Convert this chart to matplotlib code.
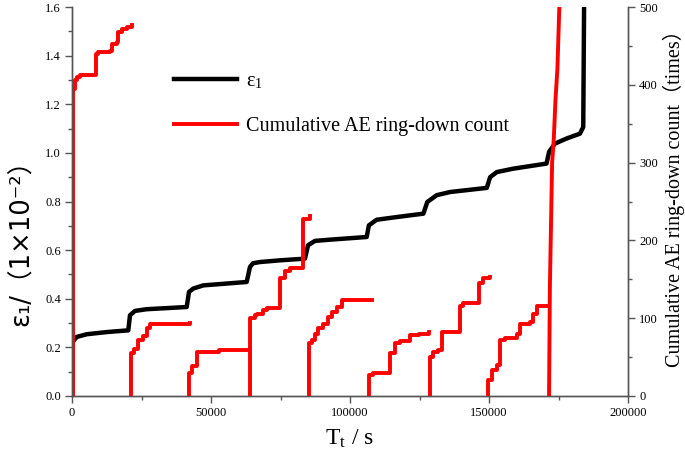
import matplotlib
matplotlib.use("Agg")
import matplotlib.pyplot as plt
from matplotlib.ticker import MultipleLocator

plt.rcParams['mathtext.fontset'] = 'stix'

# ---- data: strain epsilon_1 (x 1e-2) vs time (s) ----
eps_t = [100, 150, 1700, 5300, 12500, 20250, 20860, 22660, 26870, 41260, 42080,
         43630, 47230, 62840, 64030, 65100, 67600, 74800, 83800, 84900, 87400,
         92800, 106000, 106800, 109600, 116800, 126400, 127800, 131200, 136000,
         149200, 150400, 152800, 158700, 170700, 171600, 173700, 177900, 182700,
         183900, 184200]
eps_v = [0, 0.222, 0.243, 0.254, 0.263, 0.270, 0.332, 0.350, 0.357, 0.366, 0.428,
         0.442, 0.455, 0.469, 0.531, 0.546, 0.551, 0.558, 0.565, 0.620, 0.638,
         0.643, 0.654, 0.702, 0.725, 0.736, 0.750, 0.798, 0.826, 0.839,
         0.856, 0.900, 0.921, 0.935, 0.956, 1.004, 1.038, 1.059, 1.079,
         1.106, 1.600]

# ---- data: cumulative AE ring-down count, stage segments (step-wise) ----
ae1_t = [470, 470, 1080, 1690, 2880, 8630, 9460, 13670, 14500, 16080, 16650, 17880, 19680, 21470]
ae1_c = [0, 395, 406, 410, 412, 440, 442, 444, 453, 455, 468, 472, 474, 477]
ae2_t = [21220, 21220, 22300, 23740, 25540, 26980, 28060, 42440]
ae2_c = [0, 55, 60, 72, 77, 87, 92, 93.5]
ae3_t = [42200, 42200, 43050, 44850, 53000, 64000]
ae3_c = [0, 29, 39, 57, 59, 61]
ae4_t = [64000, 64000, 65800, 66500, 68700, 70100, 74800, 76600, 78400, 83000, 85600]
ae4_c = [0, 100, 104, 106, 110, 113, 152, 161, 164, 228, 231]
ae5_t = [85250, 85250, 86200, 87400, 88500, 90300, 92100, 93500, 95300, 97100, 100000, 107900]
ae5_c = [0, 68, 72, 80, 87, 93, 101, 108, 114, 123, 124, 124]
ae6_t = [106800, 106800, 108300, 112000, 114400, 116200, 118000, 121600, 125000, 128400]
ae6_c = [0, 27, 29, 30, 55, 68, 71, 78, 80, 82]
ae7_t = [128800, 128800, 129900, 131500, 133100, 139600, 140600, 146400, 147800, 150400]
ae7_c = [0, 50, 56, 59, 82, 116, 119, 145, 152, 153]
ae8_t = [149600, 149600, 151100, 152900, 153900, 155800, 160100, 161100, 164700, 165800, 167300, 171200]
ae8_c = [0, 20, 33, 40, 72, 75, 80, 93, 95, 106, 116, 116]
ae9_t = [171600, 171900, 172300, 172700, 173300, 173900, 174600, 175300]
ae9_c = [0, 140, 220, 300, 330, 380, 420, 500]

xticks = [0, 50000, 100000, 150000, 200000]
yticks_left = [0.0, 0.2, 0.4, 0.6, 0.8, 1.0, 1.2, 1.4, 1.6]
yticks_right = [0, 100, 200, 300, 400, 500]

W, H = 685, 459
fig = plt.figure(figsize=(W / 100, H / 100), dpi=100)
ax = fig.add_axes([72 / W, 63 / H, 556 / W, 389 / H])
ax2 = ax.twinx()

RED = '#ff0000'
l1, = ax.plot(eps_t, eps_v, color='black', lw=3.2, solid_joinstyle='round', zorder=3)
segs = [(ae1_t, ae1_c), (ae2_t, ae2_c), (ae3_t, ae3_c), (ae4_t, ae4_c),
        (ae5_t, ae5_c), (ae6_t, ae6_c), (ae7_t, ae7_c), (ae8_t, ae8_c)]
for t, c in segs:
    l2, = ax2.plot(t, c, color=RED, lw=2.8, drawstyle='steps-post')
ax2.plot(ae9_t, ae9_c, color=RED, lw=2.8)

ax.set_xlim(0, 200000)
ax.set_ylim(0, 1.6)
ax2.set_ylim(0, 500)

spine_col = '#555555'
tfont = dict(family='Liberation Serif', size=9)
for a in (ax, ax2):
    for s in a.spines.values():
        s.set_color(spine_col)
        s.set_linewidth(1.0)
    a.spines['top'].set_visible(False)

ax.set_xticks(xticks)
ax.set_xticklabels([str(v) for v in xticks], **tfont)
ax.xaxis.set_minor_locator(MultipleLocator(25000))
ax.set_yticks(yticks_left)
ax.set_yticklabels(['%.1f' % v for v in yticks_left], **tfont)
ax.yaxis.set_minor_locator(MultipleLocator(0.1))
ax2.set_yticks(yticks_right)
ax2.set_yticklabels([str(v) for v in yticks_right], **tfont)
ax2.yaxis.set_minor_locator(MultipleLocator(50))

for a in (ax, ax2):
    a.tick_params(which='major', direction='out', length=5, width=1, color=spine_col, pad=3)
    a.tick_params(which='minor', direction='out', length=3, width=1, color=spine_col)

ax.set_xlabel('T$_{\\mathregular{t}}$ / s', family='Liberation Serif', size=17, labelpad=6)
ax.set_ylabel('ε₁/（1×10⁻²）',
              family=['DejaVu Sans', 'Noto Sans CJK SC'], size=18.5)
ax.yaxis.set_label_coords(-0.066, 0.41)
ax2.set_ylabel('Cumulative AE ring-down count（times）',
               family=['Liberation Serif', 'Noto Sans CJK SC'], size=14.5)
ax2.yaxis.set_label_coords(1.062, 0.52)

leg = ax2.legend([l1, l2], ['ε$_{\\mathregular{1}}$', 'Cumulative AE ring-down count'],
                 loc='upper left', bbox_to_anchor=(0.151, 0.88), frameon=False,
                 prop={'family': 'Liberation Serif', 'size': 14.5},
                 handlelength=3.1, labelspacing=1.3, handletextpad=0.45)

fig.savefig('out.png', dpi=100)
